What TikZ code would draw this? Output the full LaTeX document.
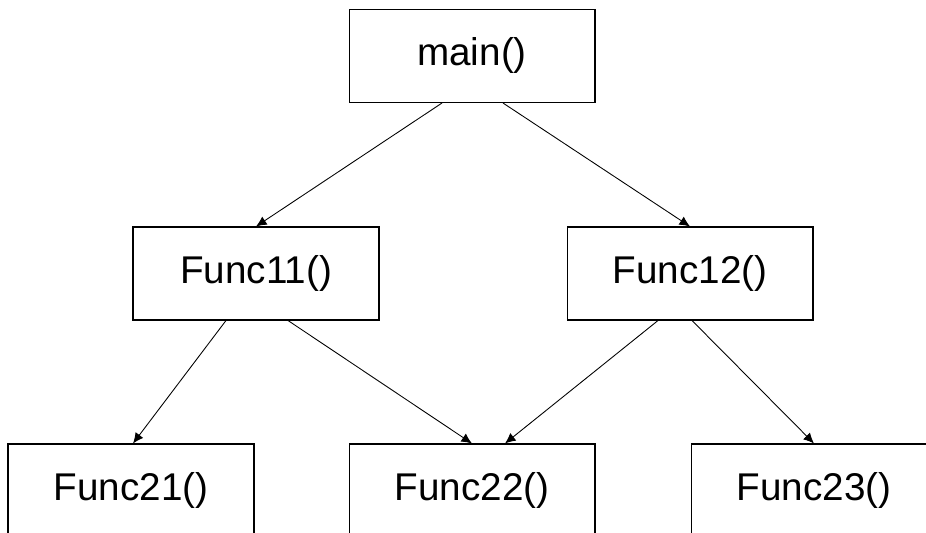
\documentclass[tikz,border=0pt]{standalone}
\usepackage{fontspec}
\setmainfont{Liberation Sans}
\usetikzlibrary{arrows.meta,calc}

\tikzset{
	func/.style={rectangle, draw, line width=0.6pt, inner sep=0pt,
		minimum width=4.92cm, minimum height=1.86cm,
		font=\fontsize{22}{26}\selectfont},
	call/.style={-{Latex[length=6pt,width=5.5pt]}, line width=0.5pt}
}

\begin{document}
\begin{tikzpicture}[x=0.02cm, y=-0.02cm]
		\clip (0, 0) rectangle (926, 533);
		\path (472, 56) node[func] (main) {main()}
  		(256, 273.5) node[func] (f11) {Func11()}
  		(690, 273.5) node[func] (f12) {Func12()}
  		(131, 490.5) node[func] (f21) {Func21()}
  		(472, 490.5) node[func] (f22) {Func22()}
  		(814, 490.5) node[func] (f23) {Func23()};

		\draw[call] ([xshift=-0.6cm]main.south) -- (f11.north);
		\draw[call] ([xshift=0.62cm]main.south) -- (f12.north);
		\draw[call] ([xshift=-0.6cm]f11.south) -- ([xshift=0.04cm]f21.north);
		\draw[call] ([xshift=0.64cm]f11.south) -- (f22.north);
		\draw[call] ([xshift=-0.64cm]f12.south) -- ([xshift=0.66cm]f22.north);
		\draw[call] ([xshift=0.04cm]f12.south) -- (f23.north);
	\end{tikzpicture}
\end{document}
